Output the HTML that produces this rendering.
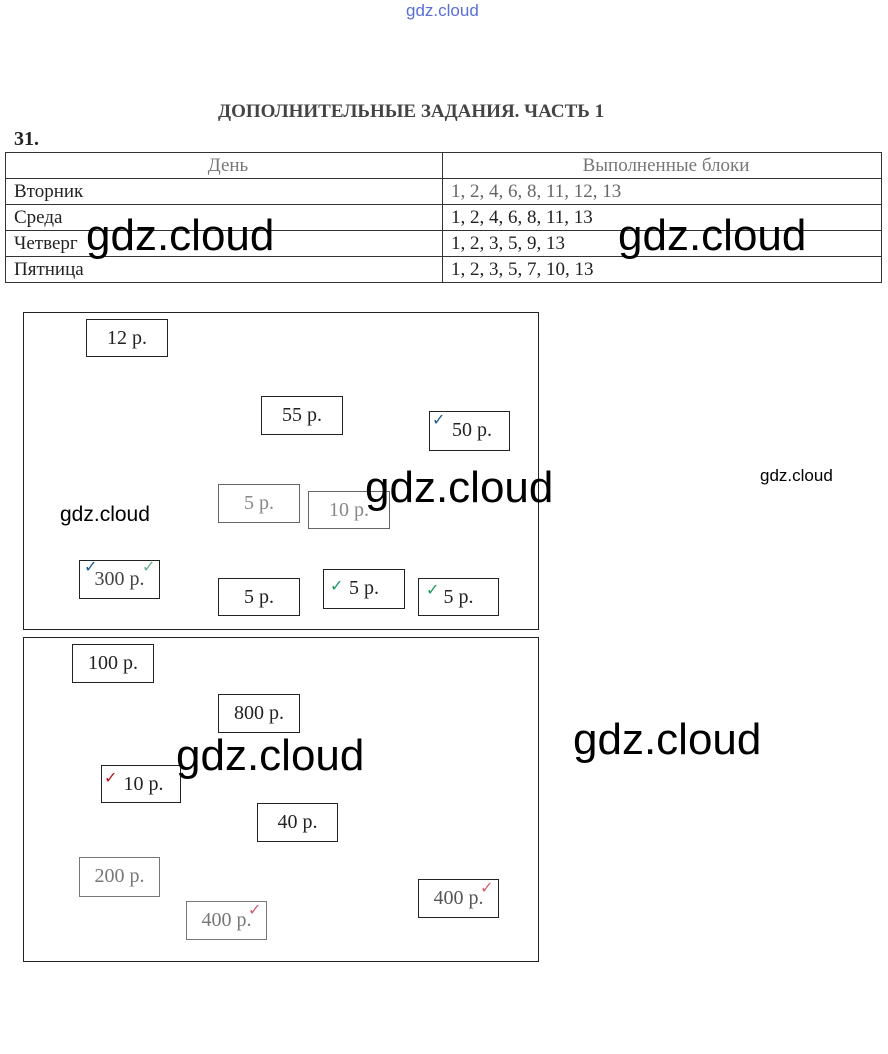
<!DOCTYPE html>
<html><head><meta charset="utf-8"><style>
body{margin:0;width:888px;height:1054px;background:#fff;position:relative;overflow:hidden;font-family:"Liberation Serif",serif;color:#222}
.a{position:absolute}
.b{position:absolute;border:1px solid #222;box-sizing:border-box;font-size:20px;text-align:center;line-height:36px;background:#fff}
.w{position:absolute;font-family:"Liberation Sans",sans-serif;color:#000;white-space:nowrap}
.W{font-size:44px;line-height:44px}
table{position:absolute;left:5px;top:152px;width:877px;border-collapse:collapse;font-size:19px}
td{border:1px solid #333;height:25px;padding:0 0 0 8px;line-height:25px}
.ck{position:absolute;font-size:16px;font-weight:bold;font-family:"DejaVu Sans",sans-serif}
</style></head><body>
<div class="a" style="left:406px;top:1px;font-family:'Liberation Sans',sans-serif;font-size:17px;color:#5a6fd6">gdz.cloud</div>
<div class="a" style="left:218px;top:101px;font-size:19px;font-weight:bold;color:#444">ДОПОЛНИТЕЛЬНЫЕ ЗАДАНИЯ. ЧАСТЬ 1</div>
<div class="a" style="left:14px;top:128px;font-size:20px;font-weight:bold">31.</div>
<table>
<tr><td style="width:428px;text-align:center;color:#777">День</td><td style="text-align:center;color:#777">Выполненные блоки</td></tr>
<tr><td>Вторник</td><td style="color:#666">1, 2, 4, 6, 8, 11, 12, 13</td></tr>
<tr><td>Среда</td><td>1, 2, 4, 6, 8, 11, 13</td></tr>
<tr><td>Четверг</td><td>1, 2, 3, 5, 9, 13</td></tr>
<tr><td>Пятница</td><td>1, 2, 3, 5, 7, 10, 13</td></tr>
</table>
<div class="a" style="left:23px;top:312px;width:516px;height:318px;border:1px solid #222;box-sizing:border-box"></div>
<div class="a" style="left:23px;top:637px;width:516px;height:325px;border:1px solid #222;box-sizing:border-box"></div>

<div class="b" style="left:86px;top:319px;width:82px;height:38px">12 р.</div>
<div class="b" style="left:261px;top:396px;width:82px;height:39px">55 р.</div>
<div class="b" style="left:429px;top:411px;width:81px;height:40px">&nbsp;50 р.</div>
<div class="b" style="left:218px;top:484px;width:82px;height:39px;color:#888;border-color:#666">5 р.</div>
<div class="b" style="left:308px;top:491px;width:82px;height:38px;color:#888;border-color:#666">10 р.</div>
<div class="b" style="left:79px;top:560px;width:81px;height:39px;color:#444">300 р.</div>
<div class="b" style="left:218px;top:578px;width:82px;height:38px">5 р.</div>
<div class="b" style="left:323px;top:569px;width:82px;height:40px">5 р.</div>
<div class="b" style="left:418px;top:578px;width:81px;height:38px">5 р.</div>
<div class="b" style="left:72px;top:644px;width:82px;height:39px">100 р.</div>
<div class="b" style="left:218px;top:694px;width:82px;height:39px">800 р.</div>
<div class="b" style="left:101px;top:765px;width:80px;height:38px">&nbsp;10 р.</div>
<div class="b" style="left:257px;top:803px;width:81px;height:39px">40 р.</div>
<div class="b" style="left:79px;top:857px;width:81px;height:40px;color:#777;border-color:#777">200 р.</div>
<div class="b" style="left:186px;top:901px;width:81px;height:39px;color:#777;border-color:#777">400 р.</div>
<div class="b" style="left:418px;top:879px;width:81px;height:39px;color:#555">400 р.</div>

<div class="ck" style="left:432px;top:410px;color:#1a5a8a">✓</div>
<div class="ck" style="left:84px;top:557px;color:#1a5a8a">✓</div>
<div class="ck" style="left:142px;top:557px;color:#6ab08a">✓</div>
<div class="ck" style="left:330px;top:576px;color:#1a9a5a">✓</div>
<div class="ck" style="left:426px;top:580px;color:#1a9a5a">✓</div>
<div class="ck" style="left:104px;top:768px;color:#c01020">✓</div>
<div class="ck" style="left:248px;top:900px;color:#d06070">✓</div>
<div class="ck" style="left:480px;top:878px;color:#d06070">✓</div>

<div class="w W" style="left:86px;top:214px">gdz.cloud</div>
<div class="w W" style="left:618px;top:214px">gdz.cloud</div>
<div class="w W" style="left:365px;top:466px">gdz.cloud</div>
<div class="w W" style="left:176px;top:734px">gdz.cloud</div>
<div class="w W" style="left:573px;top:718px">gdz.cloud</div>
<div class="w" style="left:60px;top:503px;font-size:21px">gdz.cloud</div>
<div class="w" style="left:760px;top:466px;font-size:17px">gdz.cloud</div>
</body></html>
